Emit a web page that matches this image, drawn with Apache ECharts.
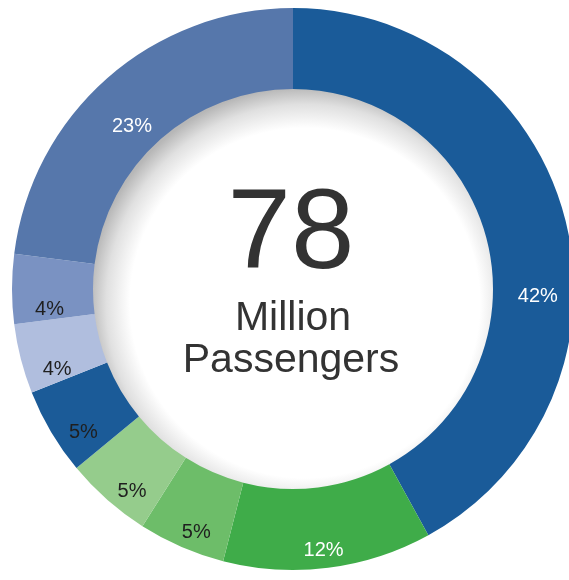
<!DOCTYPE html>
<html>
<head>
<meta charset="utf-8">
<script src="https://cdn.jsdelivr.net/npm/echarts@6/dist/echarts.min.js"></script>
<style>
html,body{margin:0;padding:0;background:#fff;}
#chart{width:569px;height:580px;}
</style>
</head>
<body>
<div id="chart"></div>
<script>
// Data (clockwise from 12 o'clock)
const shares = [42, 12, 5, 5, 5, 4, 4, 23];
const sliceColors = ['#1a5b99', '#3fac49', '#6dbd69', '#95cc8c', '#1b5b98', '#b0bede', '#7a92c2', '#5677ab'];
const labelColors = ['#ffffff', '#ffffff', '#1f1f1f', '#1f1f1f', '#1f1f1f', '#1f1f1f', '#1f1f1f', '#ffffff'];
const centerNumber = '78';
const centerLine1 = 'Million';
const centerLine2 = 'Passengers';

const CX = 293, CY = 289, R_IN = 200, R_OUT = 281;
const FONT = '"Liberation Sans", Arial, Helvetica, sans-serif';

const data = shares.map((v, i) => {
  const item = {
    value: v,
    name: 'S' + i,
    itemStyle: { color: sliceColors[i] },
    label: { color: labelColors[i] }
  };
  if (i === 0) item.label.offset = [9, 68];
  return item;
});

const chart = echarts.init(document.getElementById('chart'), null, { renderer: 'canvas' });
chart.setOption({
  backgroundColor: '#ffffff',
  animation: false,
  graphic: [
    { type: 'circle', z: 0, shape: { cx: CX, cy: CY, r: R_IN + 2 },
      style: { fill: { type: 'radial', global: true, x: CX + 12, y: CY + 14, r: 216,
        colorStops: [
          { offset: 0, color: '#ffffff' },
          { offset: 0.81, color: '#ffffff' },
          { offset: 0.92, color: '#e0e0e0' },
          { offset: 1, color: '#b7b7b7' }
        ] } } },
    { type: 'text', z: 5, style: { text: centerNumber, x: 291, y: 237, font: '114px ' + FONT, fill: '#333333', textAlign: 'center', textVerticalAlign: 'middle' } },
    { type: 'text', z: 5, style: { text: centerLine1, x: 293, y: 319, font: '41px ' + FONT, fill: '#333333', textAlign: 'center', textVerticalAlign: 'middle' } },
    { type: 'text', z: 5, style: { text: centerLine2, x: 291, y: 361, font: '41px ' + FONT, fill: '#333333', textAlign: 'center', textVerticalAlign: 'middle' } }
  ],
  series: [{
    type: 'pie',
    z: 3,
    center: [CX, CY],
    radius: [R_IN, R_OUT],
    startAngle: 90,
    clockwise: true,
    avoidLabelOverlap: false,
    silent: true,
    itemStyle: { borderWidth: 0 },
    label: {
      show: true,
      position: 'inside',
      formatter: '{c}%',
      fontSize: 20,
      fontFamily: FONT,
      offset: [0, 20]
    },
    labelLine: { show: false },
    emphasis: { disabled: true },
    data: data
  }]
});
</script>
</body>
</html>
